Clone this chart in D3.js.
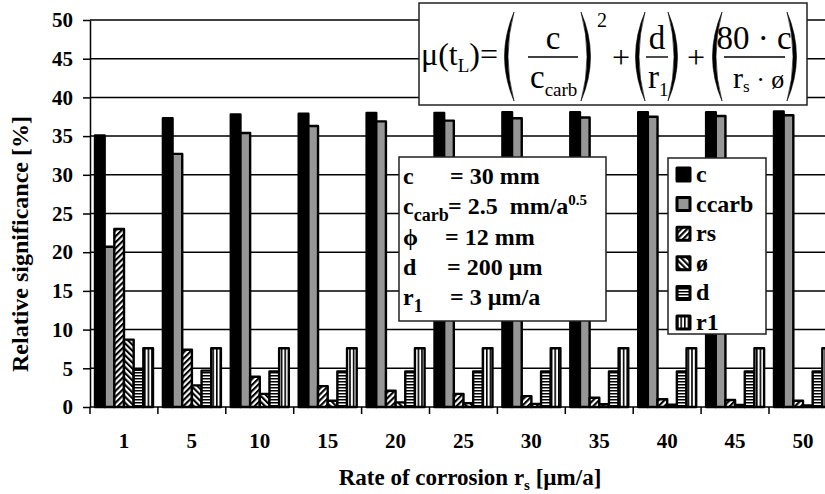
<!DOCTYPE html>
<html>
<head>
<meta charset="utf-8">
<script src="https://cdn.jsdelivr.net/npm/d3@7/dist/d3.min.js"></script>
</head>
<body style="margin:0">
<svg id="chart" width="825" height="494" font-family="Liberation Serif"></svg>
<script>
// Relative significance of each input parameter, per corrosion rate r_s
const categories = ["1", "5", "10", "15", "20", "25", "30", "35", "40", "45", "50"];
const seriesNames = ["c", "ccarb", "rs", "ø", "d", "r1"];
const cValues     = [35.1, 37.3, 37.8, 37.9, 38.0, 38.0, 38.1, 38.1, 38.1, 38.1, 38.2];
const ccarbValues = [20.7, 32.7, 35.4, 36.3, 36.9, 37.0, 37.3, 37.4, 37.5, 37.6, 37.7];
const rsValues    = [23.0, 7.4, 3.9, 2.7, 2.1, 1.7, 1.4, 1.2, 1.0, 0.9, 0.8];
const phiValues   = [8.7, 2.8, 1.7, 0.8, 0.6, 0.5, 0.4, 0.35, 0.3, 0.25, 0.2];
const dValues     = [4.8, 4.7, 4.6, 4.6, 4.6, 4.6, 4.6, 4.6, 4.6, 4.6, 4.6];
const r1Values    = [7.6, 7.6, 7.6, 7.6, 7.6, 7.6, 7.6, 7.6, 7.6, 7.6, 7.6];
const yTicks = [0, 5, 10, 15, 20, 25, 30, 35, 40, 45, 50];

const seriesValues = [cValues, ccarbValues, rsValues, phiValues, dValues, r1Values];
const seriesFill = ["#000", "#969696", "url(#pat-rs)", "url(#pat-phi)", "url(#pat-d)", "url(#pat-r1)"];

const FONT = '"Liberation Serif", serif';

const svg = d3.select("#chart");
const W = 825;

const plotLeft = 90, plotBottom = 407, plotTop = 20, groupStep = 67.9;
const x = d3.scaleBand().domain(categories)
  .range([plotLeft, plotLeft + groupStep * categories.length]).padding(0);
const xInner = d3.scaleBand().domain(seriesNames).range([5, 63]).padding(0);
const y = d3.scaleLinear().domain([0, 50]).range([plotBottom, plotTop]);

// fill patterns
const defs = svg.append("defs");
function stripe(id, w, h, rot, bar) {
  const p = defs.append("pattern").attr("id", id)
    .attr("patternUnits", "userSpaceOnUse").attr("width", w).attr("height", h);
  if (rot) p.attr("patternTransform", `rotate(${rot})`);
  p.append("rect").attr("width", w).attr("height", h).attr("fill", "#fff");
  p.append("rect").attr("x", bar.x).attr("y", bar.y).attr("width", bar.w).attr("height", bar.h).attr("fill", "#000");
}
stripe("pat-rs", 4.2, 4.2, 45, {x: 0, y: 0, w: 2.1, h: 4.2});
stripe("pat-phi", 4.2, 4.2, -45, {x: 0, y: 0, w: 2.1, h: 4.2});
stripe("pat-d", 4, 3, 0, {x: 0, y: 0, w: 4, h: 1.5});
stripe("pat-r1", 3.6, 4, 0, {x: 0, y: 0, w: 1.6, h: 4});

// text helper: every label uses the serif face
function T(sel, size, bold) {
  return sel.append("text")
    .attr("font-family", "Liberation Serif")
    .style("font-family", FONT)
    .style("font-size", size + "px").style("font-weight", bold ? "bold" : "normal")
    .style("white-space", "pre")
    .attr("fill", "#000");
}

// horizontal gridlines
svg.append("g").selectAll("line").data(yTicks.filter(t => t > 0)).join("line")
  .attr("x1", plotLeft).attr("x2", W)
  .attr("y1", d => y(d)).attr("y2", d => y(d))
  .attr("stroke", "#000").attr("stroke-width", 1.5);

// bars
const gBars = svg.append("g");
seriesNames.forEach((name, si) => {
  gBars.append("g").selectAll("rect")
    .data(categories.map((cat, i) => ({cat, v: seriesValues[si][i]})))
    .join("rect")
    .attr("x", d => x(d.cat) + xInner(name))
    .attr("width", xInner.bandwidth())
    .attr("y", d => y(d.v))
    .attr("height", d => y(0) - y(d.v))
    .attr("fill", seriesFill[si])
    .attr("stroke", "#000").attr("stroke-width", 2.4)
    .attr("stroke-linejoin", "round");
});

// y axis
const yAxis = svg.append("g").attr("transform", `translate(${plotLeft},0)`)
  .call(d3.axisLeft(y).tickValues(yTicks).tickSize(7).tickPadding(10).tickSizeOuter(0));
yAxis.attr("font-family", "Liberation Serif").attr("font-size", null);
yAxis.select(".domain").attr("stroke", "#000").attr("stroke-width", 1.5);
yAxis.selectAll(".tick line").attr("stroke", "#000").attr("stroke-width", 1.5);
yAxis.selectAll(".tick text").style("font-family", FONT).style("font-weight", "bold")
  .style("font-size", "21px").attr("fill", "#000");

// x axis: baseline, group boundary ticks and category labels
svg.append("line").attr("x1", plotLeft).attr("x2", W).attr("y1", y(0)).attr("y2", y(0))
  .attr("stroke", "#000").attr("stroke-width", 1.5);
const bounds = categories.map(c => x(c)).concat([x(categories[categories.length - 1]) + x.step()]);
svg.append("g").selectAll("line").data(bounds).join("line")
  .attr("x1", d => d).attr("x2", d => d).attr("y1", y(0)).attr("y2", y(0) + 7)
  .attr("stroke", "#000").attr("stroke-width", 1.5);
const xl = svg.append("g");
categories.forEach(c => {
  T(xl, 21, true).attr("x", x(c) + x.bandwidth() / 2).attr("y", 448)
    .attr("text-anchor", "middle").text(c);
});

// axis titles
const xt = T(svg, 23, true).attr("x", 470).attr("y", 485).attr("text-anchor", "middle");
xt.append("tspan").text("Rate of corrosion r");
xt.append("tspan").attr("dy", 5).style("font-size", "15px").text("s");
xt.append("tspan").attr("dy", -5).text(" [µm/a]");

T(svg, 24, true).attr("transform", "translate(28,244) rotate(-90)")
  .attr("text-anchor", "middle").text("Relative significance [%]");

// formula box
const fb = svg.append("g");
fb.append("rect").attr("x", 419).attr("y", 3).attr("width", 388).attr("height", 102)
  .attr("fill", "#fff").attr("stroke", "#222").attr("stroke-width", 1.5);
function ftext(tx, ty, size, str, anchor) {
  return T(fb, size, false).attr("x", tx).attr("y", ty).attr("text-anchor", anchor || "start").text(str);
}
// tall bracket drawn as a crescent, thick in the middle and thin at the ends
function paren(x0, x1, open) {
  const top = 12, bot = 101, mid = (top + bot) / 2;
  const p = open
    ? `M${x1},${top} Q${x0 - 6},${mid} ${x1},${bot} Q${x0 + 1},${mid} ${x1},${top} Z`
    : `M${x0},${top} Q${x1 + 6},${mid} ${x0},${bot} Q${x1 - 1},${mid} ${x0},${top} Z`;
  fb.append("path").attr("d", p).attr("fill", "#000").attr("stroke", "#000").attr("stroke-width", 0.6);
}
function fracLine(x0, x1) {
  fb.append("line").attr("x1", x0).attr("x2", x1).attr("y1", 57).attr("y2", 57)
    .attr("stroke", "#000").attr("stroke-width", 1.4);
}
const lhs = ftext(421, 65, 32, "μ(t");
lhs.append("tspan").attr("dy", 7).style("font-size", "19px").text("L");
lhs.append("tspan").attr("dy", -7).text(")");
ftext(480, 65, 32, "=");
paren(501, 514, true);
ftext(553, 49, 33, "c", "middle");
fracLine(528, 578);
const den1 = ftext(530, 88, 33, "c");
den1.append("tspan").attr("dy", 8).style("font-size", "19px").text("carb");
paren(581, 594, false);
ftext(597, 27, 20, "2");
ftext(621, 68, 32, "+", "middle");
paren(632, 645, true);
ftext(657, 49, 33, "d", "middle");
fracLine(646, 668);
const den2 = ftext(648, 88, 33, "r");
den2.append("tspan").attr("dy", 8).style("font-size", "19px").text("1");
paren(668, 681, false);
ftext(696, 68, 32, "+", "middle");
paren(709, 722, true);
ftext(754, 49, 33, "80 · c", "middle");
fracLine(724, 785);
const den3 = ftext(733, 88, 30, "r");
den3.append("tspan").attr("dy", 4).style("font-size", "17px").text("s");
den3.append("tspan").attr("dy", -4).style("font-size", "26px").text(" · ø");
paren(787, 800, false);

// parameter box
const pb = svg.append("g");
pb.append("rect").attr("x", 399).attr("y", 157).attr("width", 207).attr("height", 164)
  .attr("fill", "#fff").attr("stroke", "#222").attr("stroke-width", 1.5);
const paramRows = [
  {sym: "c", sub: "", eqX: 450, val: "= 30 mm", sup: ""},
  {sym: "c", sub: "carb", eqX: 448, val: "= 2.5\u00A0\u00A0mm/a", sup: "0.5"},
  {sym: "ϕ", sub: "", eqX: 445, val: "= 12 mm", sup: ""},
  {sym: "d", sub: "", eqX: 447, val: "= 200 µm", sup: ""},
  {sym: "r", sub: "1", eqX: 450, val: "= 3 µm/a", sup: ""}
];
paramRows.forEach((r, i) => {
  const by = 184 + i * 30.3;
  const t = T(pb, 24, true).attr("x", 403).attr("y", by);
  t.append("tspan").text(r.sym);
  if (r.sub) t.append("tspan").attr("dy", 7).style("font-size", "18px").text(r.sub);
  const v = T(pb, 24, true).attr("x", r.eqX).attr("y", by);
  v.append("tspan").text(r.val);
  if (r.sup) v.append("tspan").attr("dy", -9).style("font-size", "15px").text(r.sup);
});

// legend
const lg = svg.append("g");
lg.append("rect").attr("x", 668).attr("y", 158).attr("width", 98).attr("height", 176)
  .attr("fill", "#fff").attr("stroke", "#222").attr("stroke-width", 1.5);
seriesNames.forEach((name, i) => {
  const cy = 175 + i * 29.6;
  lg.append("rect").attr("x", 677).attr("y", cy - 7).attr("width", 13).attr("height", 13)
    .attr("fill", seriesFill[i]).attr("stroke", "#000").attr("stroke-width", 3)
    .attr("stroke-linejoin", "round");
  T(lg, 24, true).attr("x", 696).attr("y", cy + 7).text(name);
});
</script>
</body>
</html>
